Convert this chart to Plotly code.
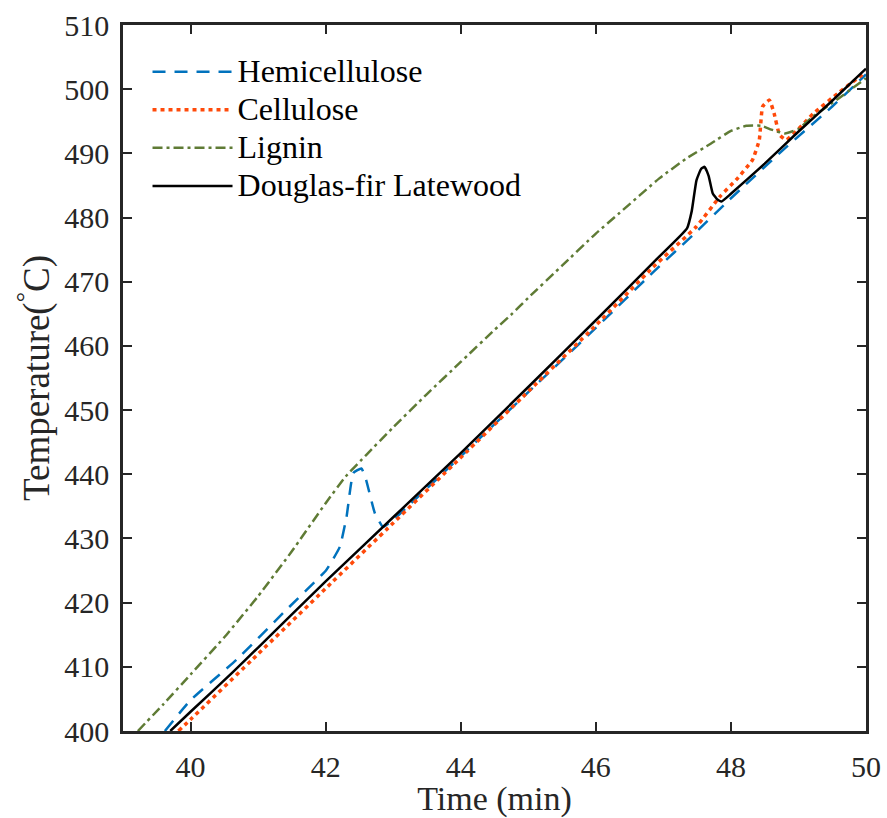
import plotly.graph_objects as go

# Hemicellulose
hemi_t = [39.62, 40.0, 40.68, 41.42, 42.01, 42.21, 42.31, 42.41, 42.53, 42.60, 42.73, 42.85,
          43.0, 44.0, 45.0, 46.0, 46.85, 47.49, 47.98, 48.77, 49.5, 50.0]
hemi_T = [400, 404.8, 411.1, 418.9, 425.1, 428.7, 433.4, 440.2, 440.9, 439.1, 433.9, 431.8,
          432.9, 442.8, 452.8, 462.8, 471.5, 477.8, 482.8, 490.5, 497.3, 502.3]

# Cellulose
cell_t = [39.82, 40.0, 41.0, 42.0, 43.0, 44.0, 45.0, 46.0, 46.85, 47.49, 47.84, 48.08, 48.32,
          48.42, 48.47, 48.57, 48.64, 48.72, 48.82, 49.22, 49.6, 50.0]
cell_T = [400, 401.8, 412.0, 422.2, 432.4, 442.6, 452.9, 463.2, 472.3, 478.6, 483.3, 485.9, 489.0,
          492.1, 497.3, 498.3, 496.2, 492.9, 492.1, 496.2, 499.5, 502.7]

# Lignin
lig_t = [39.22, 39.6, 40.0, 40.5, 41.0, 41.5, 42.0, 42.3, 42.6, 43.0, 43.5, 44.0, 44.5, 44.77,
         45.0, 45.5, 46.0, 46.35, 46.94, 47.34, 47.7, 48.0, 48.23, 48.45, 48.6, 48.8, 49.0,
         49.21, 49.6, 50.0]
lig_T = [400, 404.2, 408.8, 414.6, 421.0, 428.0, 435.5, 439.7, 443.0, 447.3, 452.5, 457.5,
         462.5, 465.1, 467.5, 472.5, 477.5, 480.7, 486.1, 489.2, 491.5, 493.5, 494.3, 494.3,
         493.7, 493.1, 493.8, 495.7, 498.6, 501.7]

# Douglas-fir Latewood
df_t = [39.70, 40.0, 40.63, 41.0, 42.0, 43.0, 44.0, 45.0, 46.0, 46.89, 47.35, 47.42, 47.49,
        47.56, 47.61, 47.67, 47.73, 47.80, 47.86, 48.0, 48.5, 48.97, 49.5, 50.0]
df_T = [400, 403.0, 409.2, 413.0, 423.3, 433.3, 443.3, 453.6, 464.0, 473.4, 478.3, 481.0, 485.8,
        487.6, 487.9, 486.5, 483.8, 482.8, 482.5, 483.7, 488.4, 493.1, 498.2, 503.2]

series_names = ["Hemicellulose", "Cellulose", "Lignin", "Douglas-fir Latewood"]

x_ticks = [40, 42, 44, 46, 48, 50]
y_ticks = list(range(400, 511, 10))

FONT = "Liberation Serif, Times New Roman, serif"
AX = "#262626"


def lg(name):
    return '<span style="font-size:32px">' + name + '</span>'


fig = go.Figure()
fig.add_trace(go.Scatter(x=hemi_t, y=hemi_T, mode="lines", name=lg(series_names[0]),
                         line=dict(color="#0072BD", width=2.5, dash="13px,9px", shape="spline", smoothing=0.4)))
fig.add_trace(go.Scatter(x=cell_t, y=cell_T, mode="lines", name=lg(series_names[1]),
                         line=dict(color="#FF4A0A", width=3.5, dash="4px,4px", shape="spline", smoothing=0.4)))
fig.add_trace(go.Scatter(x=lig_t, y=lig_T, mode="lines", name=lg(series_names[2]),
                         line=dict(color="#5F7B35", width=2.5, dash="10px,4px,3px,4px", shape="spline", smoothing=0.4)))
fig.add_trace(go.Scatter(x=df_t, y=df_T, mode="lines", name=lg(series_names[3]),
                         line=dict(color="#000000", width=2.5, shape="spline", smoothing=0.4)))

fig.update_layout(
    width=887, height=818,
    margin=dict(l=123, r=21, t=25, b=87),
    paper_bgcolor="white", plot_bgcolor="white",
    font=dict(family=FONT, size=30, color="#262626"),
    showlegend=True,
    legend=dict(x=0.033, y=0.968, xanchor="left", yanchor="top", bgcolor="rgba(0,0,0,0)",
                font=dict(family=FONT, size=27, color="#000000"), itemwidth=80,
                tracegroupgap=0),
)
fig.update_xaxes(range=[39, 50], tickvals=x_ticks, ticks="inside", ticklen=9, tickwidth=2,
                 tickcolor=AX, showline=True, linewidth=2.5, linecolor=AX, mirror="ticks",
                 showgrid=False, zeroline=False, ticklabelstandoff=7, automargin=False,
                 title=dict(text="Time (min)", font=dict(size=34, family=FONT, color="#262626"), standoff=8),
                 tickfont=dict(size=30, family=FONT, color="#262626"))
fig.update_yaxes(range=[400, 510], tickvals=y_ticks, ticks="inside", ticklen=9, tickwidth=2,
                 tickcolor=AX, showline=True, linewidth=2.5, linecolor=AX, mirror="ticks",
                 showgrid=False, zeroline=False, ticklabelstandoff=5, automargin=False,
                 title=dict(text="Temperature(<sup>°</sup>C)", font=dict(size=37, family=FONT, color="#262626"), standoff=4),
                 tickfont=dict(size=30, family=FONT, color="#262626"))

fig.write_html("out.html", config={"displayModeBar": False},
               post_script="document.body.style.margin='0';document.body.style.overflow='hidden';")
